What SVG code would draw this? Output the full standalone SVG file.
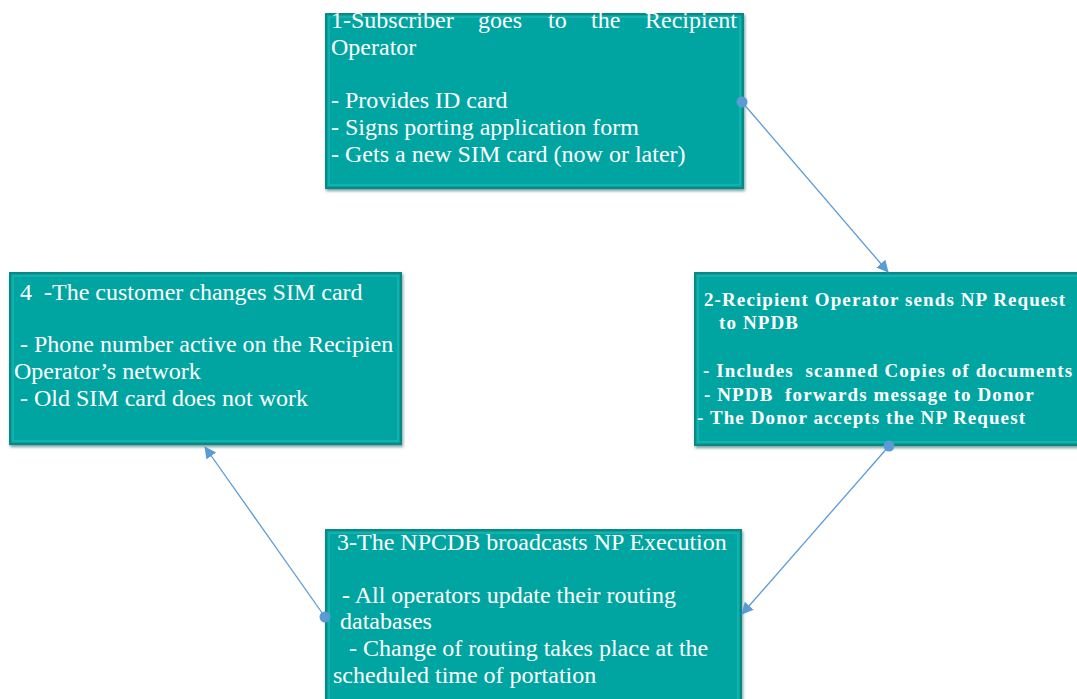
<svg xmlns="http://www.w3.org/2000/svg" width="1077" height="699" viewBox="0 0 1077 699">
  <style>
    .box { fill: #05a5a1; stroke: #0b8784; stroke-width: 2; }
    .bevel { fill: none; stroke: #2cc1bc; stroke-width: 1.5; opacity: 0.6; }
    .t { font-family: "Liberation Serif", "DejaVu Serif", "Times New Roman", serif; font-size: 24px; fill: #ffffff; }
    .tb { font-family: "Liberation Serif", "DejaVu Serif", "Times New Roman", serif; font-size: 19px; font-weight: bold; fill: #ffffff; letter-spacing: 1.1px; }
    .conn { stroke: #5b9bd5; stroke-width: 1.3; fill: none; }
    .dot { fill: #5b9bd5; }
  </style>
  <defs>
    <filter id="soft" x="-5%" y="-5%" width="110%" height="115%">
      <feDropShadow dx="1" dy="2" stdDeviation="1.5" flood-color="#0a5f5d" flood-opacity="0.6"/>
    </filter>
    <marker id="arrow" viewBox="0 0 12 12" refX="11" refY="6" markerWidth="12" markerHeight="12" markerUnits="userSpaceOnUse" orient="auto">
      <path d="M0,0 L12,6 L0,12 Z" fill="#5b9bd5"/>
    </marker>
  </defs>

  <rect width="1077" height="699" fill="#ffffff"/>

  <!-- Step 1 -->
  <g id="step1">
    <rect class="box" x="326" y="14" width="417" height="174" filter="url(#soft)"/>
    <rect class="bevel" x="329" y="17" width="411" height="168"/>
    <text class="t" y="28">
      <tspan x="331">1-Subscriber</tspan><tspan x="478">goes</tspan><tspan x="548">to</tspan><tspan x="591">the</tspan><tspan x="645">Recipient</tspan>
    </text>
    <text class="t" x="331" y="55">Operator</text>
    <text class="t" x="331" y="108">- Provides ID card</text>
    <text class="t" x="331" y="135">- Signs porting application form</text>
    <text class="t" x="331" y="162">- Gets a new SIM card (now or later)</text>
  </g>

  <!-- Step 2 -->
  <g id="step2">
    <rect class="box" x="695" y="273" width="390" height="172" filter="url(#soft)"/>
    <rect class="bevel" x="698" y="276" width="390" height="166"/>
    <text class="tb" x="704" y="306">2-Recipient Operator sends NP Request</text>
    <text class="tb" x="719" y="329">to NPDB</text>
    <text class="tb" x="703" y="377" xml:space="preserve">- Includes  scanned Copies of documents</text>
    <text class="tb" x="704" y="401" xml:space="preserve">- NPDB  forwards message to Donor</text>
    <text class="tb" x="697" y="424">- The Donor accepts the NP Request</text>
  </g>

  <!-- Step 3 -->
  <g id="step3">
    <rect class="box" x="326" y="530" width="415" height="180" filter="url(#soft)"/>
    <rect class="bevel" x="329" y="533" width="409" height="174"/>
    <text class="t" x="337" y="550">3-The NPCDB broadcasts NP Execution</text>
    <text class="t" x="342" y="603">- All operators update their routing</text>
    <text class="t" x="340" y="629">databases</text>
    <text class="t" x="349" y="656">- Change of routing takes place at the</text>
    <text class="t" x="333" y="683">scheduled time of portation</text>
  </g>

  <!-- Step 4 -->
  <g id="step4">
    <rect class="box" x="10" y="273" width="391" height="171" filter="url(#soft)"/>
    <rect class="bevel" x="13" y="276" width="385" height="165"/>
    <text class="t" x="20" y="300" xml:space="preserve">4  -The customer changes SIM card</text>
    <text class="t" x="20" y="352">- Phone number active on the Recipien</text>
    <text class="t" x="14" y="379">Operator’s network</text>
    <text class="t" x="20" y="406">- Old SIM card does not work</text>
  </g>

  <!-- Connectors -->
  <g id="connectors">
    <line class="conn" x1="742" y1="102" x2="888" y2="272" marker-end="url(#arrow)"/>
    <circle class="dot" cx="742" cy="102" r="5.5"/>
    <line class="conn" x1="889" y1="446" x2="742" y2="614" marker-end="url(#arrow)"/>
    <circle class="dot" cx="889" cy="446" r="5.5"/>
    <line class="conn" x1="325" y1="617" x2="205" y2="447" marker-end="url(#arrow)"/>
    <circle class="dot" cx="325" cy="617" r="5.5"/>
  </g>
</svg>
